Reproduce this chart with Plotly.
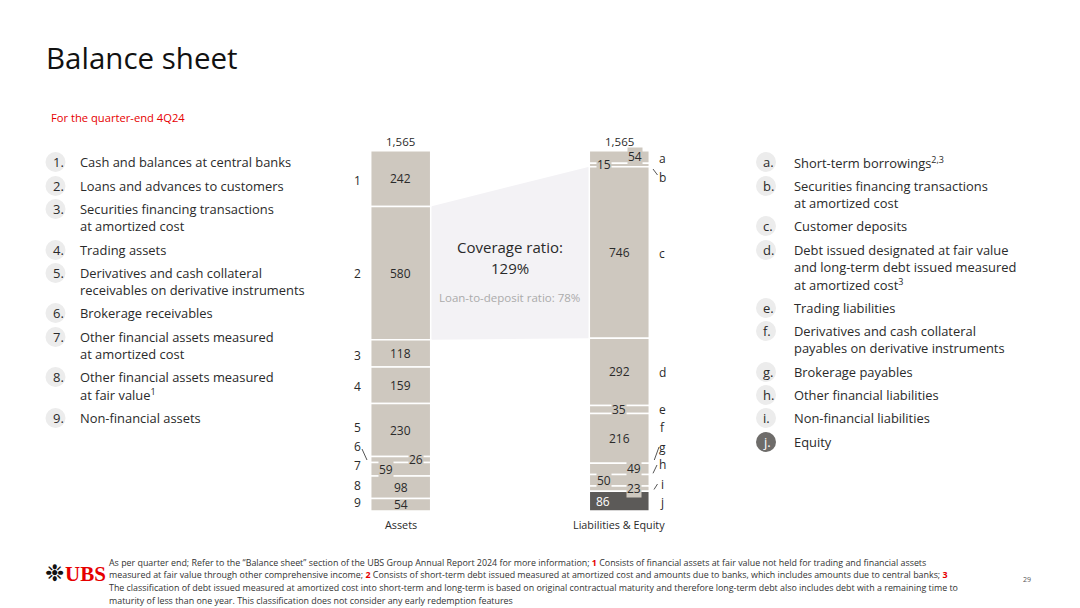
import plotly.graph_objects as go

# ---------------- data ----------------
asset_ids = ["1", "2", "3", "4", "5", "6", "7", "8", "9"]
asset_names = [
    "Cash and balances at central banks",
    "Loans and advances to customers",
    "Securities financing transactions|at amortized cost",
    "Trading assets",
    "Derivatives and cash collateral|receivables on derivative instruments",
    "Brokerage receivables",
    "Other financial assets measured|at amortized cost",
    "Other financial assets measured|at fair value<sup>1</sup>",
    "Non-financial assets",
]
asset_values = [242, 580, 118, 159, 230, 26, 59, 98, 54]

liab_ids = ["a", "b", "c", "d", "e", "f", "g", "h", "i", "j"]
liab_names = [
    "Short-term borrowings<sup>2,3</sup>",
    "Securities financing transactions|at amortized cost",
    "Customer deposits",
    "Debt issued designated at fair value|and long-term debt issued measured|at amortized cost<sup>3</sup>",
    "Trading liabilities",
    "Derivatives and cash collateral|payables on derivative instruments",
    "Brokerage payables",
    "Other financial liabilities",
    "Non-financial liabilities",
    "Equity",
]
liab_values = [54, 15, 746, 292, 35, 216, 49, 50, 23, 86]

bar_names = ["Assets", "Liabilities & Equity"]
total_label = "1,565"
total_value = 1565
coverage_ratio = "129%"
loan_to_deposit = "78%"

# ---------------- layout constants ----------------
W, H = 1080, 608
FONT = "Open Sans"
BAR_TOP_PX, BAR_BOT_PX = 151, 511
SCALE = (BAR_BOT_PX - BAR_TOP_PX) / total_value  # px per unit
Y_LO = -(H - BAR_BOT_PX) / SCALE
Y_HI = BAR_BOT_PX / SCALE
XA, XL, BW = 400.7, 619.3, 60
BAR_COL = "#CEC8BF"
EQ_COL = "#5C5A58"
TXT = "#2A2A2A"
RED = "#E60000"


def yv(py_):
    return (BAR_BOT_PX - py_) / SCALE


def px(x):
    return x / W


def py(y):
    return 1 - y / H


fig = go.Figure()
annotations = []
shapes = []


def txt(x, y, text, size, color=TXT, xanchor="center", family=FONT, bg="rgba(0,0,0,0)"):
    annotations.append(dict(x=px(x), y=py(y), xref="paper", yref="paper", text=text, showarrow=False,
                            xanchor=xanchor, yanchor="middle", bgcolor=bg, borderpad=0,
                            font=dict(family=family, size=size, color=color)))


def stack(values):
    top = sum(values)
    bases, centers = [], []
    cum = 0
    for v in values:
        cum += v
        bases.append(top - cum)
        centers.append(top - cum + v / 2)
    return bases, centers


a_bases, a_centers = stack(asset_values)
l_bases, l_centers = stack(liab_values)

for i, v in enumerate(asset_values):
    fig.add_trace(go.Bar(x=[XA], y=[v], base=[a_bases[i]], width=BW,
                         marker=dict(color=BAR_COL, line=dict(color="white", width=1.5)),
                         hoverinfo="skip", showlegend=False))
for i, v in enumerate(liab_values):
    col = EQ_COL if liab_ids[i] == "j" else BAR_COL
    fig.add_trace(go.Bar(x=[XL], y=[v], base=[l_bases[i]], width=BW,
                         marker=dict(color=col, line=dict(color="white", width=1.5)),
                         hoverinfo="skip", showlegend=False))

# connecting shaded polygon (loans -> customer deposits)
la_top = a_bases[1] + asset_values[1]
la_bot = a_bases[1]
cd_top = l_bases[2] + liab_values[2]
cd_bot = l_bases[2]
xr = XA + BW / 2
xl = XL - BW / 2
shapes.append(dict(type="path", xref="x", yref="y", layer="below",
                   path=f"M {xr},{la_top} L {xl},{cd_top} L {xl},{cd_bot} L {xr},{la_bot} Z",
                   fillcolor="#F3F2F5", line=dict(width=0)))

# value labels in bars (placed at segment centres in data units)
a_off = [0, 0, 0, 0, 0, 15, -15, 0, 0]
l_off = [16, -15, 0, 0, 0, 0, 15, -15, 15, -16]
small = {5, 6}
for i, v in enumerate(asset_values):
    annotations.append(dict(x=XA + a_off[i], y=a_centers[i], xref="x", yref="y", text=str(v),
                            showarrow=False, xanchor="center", yanchor="middle",
                            font=dict(family=FONT, size=12, color=TXT),
                            bgcolor=BAR_COL if i in small else "rgba(0,0,0,0)", borderpad=0))
l_small = {0, 1, 4, 6, 7, 8}
for i, v in enumerate(liab_values):
    col = "white" if liab_ids[i] == "j" else TXT
    annotations.append(dict(x=XL + l_off[i], y=l_centers[i], xref="x", yref="y", text=str(v),
                            showarrow=False, xanchor="center", yanchor="middle",
                            font=dict(family=FONT, size=12, color=col),
                            bgcolor=BAR_COL if i in l_small else "rgba(0,0,0,0)", borderpad=0))

# index labels beside bars
a_idx_y = [180, 274, 355, 386.5, 427.5, 446, 465, 485, 502.5]
for i, lab in enumerate(asset_ids):
    txt(357, a_idx_y[i], lab, 12)
l_idx_y = [158, 177.5, 253, 372.5, 409, 427, 447.5, 464.5, 484, 502]
for i, lab in enumerate(liab_ids):
    txt(662, l_idx_y[i], lab, 12)

# leader lines
for (x0, y0, x1, y1) in [(362, 449, 367, 460), (653, 169, 657.5, 175), (659, 447, 654.3, 460),
                         (657, 465, 653, 473.3), (657.5, 484, 654, 489.5)]:
    shapes.append(dict(type="line", xref="paper", yref="paper", x0=px(x0), y0=py(y0), x1=px(x1), y1=py(y1),
                       line=dict(color="#555555", width=1)))

# totals and bar names
for xc, nm in zip([XA, XL], bar_names):
    txt(xc, 141, total_label, 11.5)
    txt(xc, 524, nm, 10.8)

# coverage text
txt(509.5, 247, "Coverage ratio:", 15)
txt(509.5, 267.5, coverage_ratio, 15)
txt(509.5, 297, "Loan-to-deposit ratio: " + loan_to_deposit, 11.5, color="#ABABAB")

# title & subtitle
txt(45, 57, "Balance sheet", 29.5, color="#111111", xanchor="left")
txt(50, 117.5, "For the quarter-end 4Q24", 11.2, color=RED, xanchor="left")


# legends
def legend(ids, names, ys, cx, tx, dark_id=None):
    for lab, nm, y0 in zip(ids, names, ys):
        dark = lab == dark_id
        shapes.append(dict(type="circle", xref="paper", yref="paper", layer="below",
                           x0=px(cx - 10), x1=px(cx + 10), y0=py(y0 + 10), y1=py(y0 - 10),
                           fillcolor="#6E6C6A" if dark else "#ECECEC", line=dict(width=0)))
        txt(cx - 4, y0, lab + ".", 13, color="white" if dark else TXT, xanchor="left")
        for k, line in enumerate(nm.split("|")):
            txt(tx, y0 + 17 * k, line, 12.9, xanchor="left")


legend(asset_ids, asset_names, [162, 186, 209, 250, 273, 313, 337, 377, 418], 55.5, 78.5)
legend(liab_ids, liab_names, [162, 186, 226, 250, 308, 331, 372, 395, 418, 442], 766, 792.5, dark_id="j")

# footer
R = lambda n: f"<b><span style='color:{RED}'>{n}</span></b>"
foot = [
    "As per quarter end; Refer to the \u201cBalance sheet\u201d section of the UBS Group Annual Report 2024 for more information; "
    + R(1) + " Consists of financial assets at fair value not held for trading and financial assets",
    "measured at fair value through other comprehensive income; " + R(2)
    + " Consists of short-term debt issued measured at amortized cost and amounts due to banks, which includes amounts due to central banks; " + R(3),
    "The classification of debt issued measured at amortized cost into short-term and long-term is based on original contractual maturity and therefore long-term debt also includes debt with a remaining time to",
    "maturity of less than one year. This classification does not consider any early redemption features",
]
for k, t in enumerate(foot):
    txt(107.5, 562 + 12.7 * k, t, 8.9, color="#333333", xanchor="left")

txt(85.5, 573.5, "<b>UBS</b>", 21, color=RED, family="Liberation Serif")
txt(54.5, 573, "\u2749", 23, color="#111111", family="DejaVu Sans")
txt(1027, 579, "29", 7, color="#555555")

fig.update_layout(
    width=W, height=H, margin=dict(l=0, r=0, t=0, b=0),
    paper_bgcolor="white", plot_bgcolor="white", barmode="overlay",
    xaxis=dict(range=[0, W], visible=False, fixedrange=True),
    yaxis=dict(range=[Y_LO, Y_HI], visible=False, fixedrange=True),
    annotations=annotations, shapes=shapes, showlegend=False,
    font=dict(family=FONT),
)
fig.write_html("out.html", config={"displayModeBar": False},
               post_script="document.body.style.margin='0px';")
